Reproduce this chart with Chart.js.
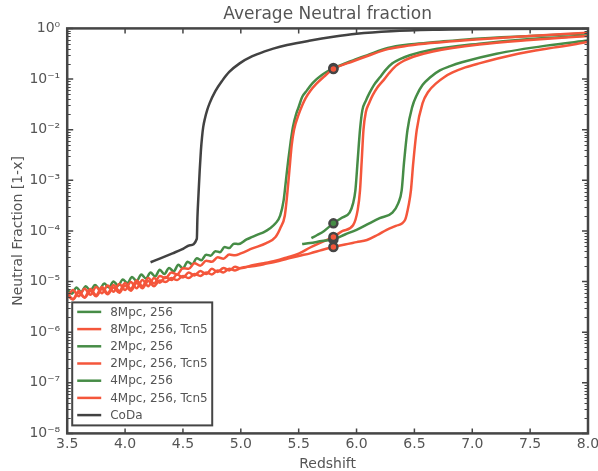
<!DOCTYPE html>
<html>
<head>
<meta charset="utf-8">
<script src="https://cdn.jsdelivr.net/npm/chart.js@4.4.1/dist/chart.umd.min.js"></script>
<style>
  html, body { margin: 0; padding: 0; background: #fff; }
</style>
</head>
<body>
<canvas id="chart" width="598" height="471"></canvas>
<script>
// ---- data (redshift z, neutral fraction 1-x) ----
const z8Mpc = [3.50, 3.54, 3.58, 3.62, 3.66, 3.70, 3.74, 3.78, 3.82, 3.86, 3.90, 3.94, 3.98,
  4.02, 4.06, 4.10, 4.14, 4.18, 4.22, 4.26, 4.30, 4.34, 4.38, 4.42, 4.46, 4.50, 4.54, 4.58,
  4.62, 4.66, 4.70, 4.74, 4.78, 4.82, 4.86, 4.90, 4.94, 4.98,
  5.05, 5.10, 5.15, 5.20, 5.25, 5.30, 5.34, 5.37, 5.39, 5.41, 5.43, 5.45, 5.48, 5.50, 5.53,
  5.57, 5.62, 5.70, 5.80, 5.97, 6.10, 6.27, 6.45, 6.64, 7.00, 7.50, 8.00];
const f8Mpc = [7.1e-6, 5.75e-6, 7.6e-6, 6.2e-6, 8.1e-6, 6.6e-6, 8.5e-6, 7.1e-6, 9.1e-6, 7.6e-6,
  1.0e-5, 8.3e-6, 1.1e-5, 9.3e-6, 1.23e-5, 1.02e-5, 1.38e-5, 1.15e-5, 1.51e-5, 1.26e-5,
  1.7e-5, 1.41e-5, 1.86e-5, 1.58e-5, 2.14e-5, 1.82e-5, 2.45e-5, 2.19e-5, 2.88e-5, 2.63e-5,
  3.39e-5, 3.24e-5, 3.98e-5, 3.8e-5, 4.8e-5, 4.57e-5, 5.6e-5, 5.5e-5,
  6.8e-5, 7.6e-5, 8.5e-5, 9.5e-5, 1.12e-4, 1.41e-4, 2.0e-4, 4.0e-4, 1.0e-3, 2.5e-3, 5.6e-3,
  1.12e-2, 2.1e-2, 2.8e-2, 4.4e-2, 5.9e-2, 8.3e-2, 0.12, 0.162, 0.234, 0.30, 0.41, 0.48,
  0.525, 0.62, 0.71, 0.80];

const z8MpcTcn5 = [3.50, 3.55, 3.60, 3.65, 3.70, 3.75, 3.80, 3.85, 3.90, 3.95, 4.00, 4.05, 4.10,
  4.15, 4.20, 4.25, 4.30, 4.35, 4.40, 4.45, 4.50, 4.55, 4.60, 4.65, 4.70, 4.75, 4.80, 4.85,
  4.90, 4.95, 5.00,
  5.10, 5.22, 5.30, 5.34, 5.38, 5.40, 5.42, 5.44, 5.46, 5.50, 5.53, 5.56, 5.60, 5.65, 5.72,
  5.80, 5.97, 6.10, 6.27, 6.45, 6.64, 7.00, 7.50, 8.00];
const f8MpcTcn5 = [5.9e-6, 4.5e-6, 6.5e-6, 4.9e-6, 7.1e-6, 5.4e-6, 7.8e-6, 5.9e-6, 8.5e-6, 6.5e-6,
  9.3e-6, 7.2e-6, 1.05e-5, 8.1e-6, 1.17e-5, 9.1e-6, 1.29e-5, 1.17e-5, 1.51e-5, 1.38e-5,
  1.82e-5, 1.78e-5, 2.29e-5, 2.04e-5, 2.57e-5, 2.45e-5, 3.0e-5, 2.82e-5, 3.4e-5, 3.3e-5, 3.6e-5,
  4.5e-5, 5.75e-5, 7.6e-5, 1.12e-4, 2.0e-4, 5.0e-4, 1.58e-3, 5.0e-3, 1.0e-2, 2.0e-2, 3.0e-2,
  4.2e-2, 5.8e-2, 7.9e-2, 0.112, 0.158, 0.224, 0.288, 0.39, 0.457, 0.513, 0.60, 0.71, 0.82];

const z2Mpc = [5.61, 5.66, 5.72, 5.80, 5.87, 5.94, 5.97, 5.99, 6.01, 6.03, 6.05, 6.08, 6.11,
  6.15, 6.20, 6.25, 6.31, 6.38, 6.46, 6.63, 7.06, 7.50, 8.00];
const f2Mpc = [7.2e-5, 8.3e-5, 1.0e-4, 1.41e-4, 1.8e-4, 2.3e-4, 3.5e-4, 6.3e-4, 2.5e-3, 1.0e-2,
  2.4e-2, 3.7e-2, 5.2e-2, 7.6e-2, 0.107, 0.15, 0.204, 0.25, 0.295, 0.37, 0.50, 0.62, 0.72];

const z2MpcTcn5 = [3.50, 3.55, 3.60, 3.65, 3.70, 3.75, 3.80, 3.85, 3.90, 3.95, 4.00, 4.05, 4.10,
  4.15, 4.20, 4.25, 4.30, 4.35, 4.40, 4.45, 4.50, 4.55, 4.60, 4.65, 4.70, 4.75, 4.80, 4.85,
  4.90, 4.95, 5.00,
  5.10, 5.20, 5.30, 5.40, 5.50, 5.60, 5.70, 5.80, 5.88, 5.97, 6.01, 6.03, 6.045, 6.06, 6.08,
  6.11, 6.14, 6.18, 6.23, 6.28, 6.34, 6.41, 6.49, 6.66, 7.06, 7.50, 8.00];
const f2MpcTcn5 = [4.8e-6, 6.8e-6, 5.1e-6, 7.2e-6, 5.5e-6, 7.8e-6, 5.9e-6, 8.3e-6, 6.3e-6, 8.9e-6,
  6.8e-6, 9.8e-6, 7.4e-6, 1.07e-5, 8.1e-6, 1.17e-5, 9.5e-6, 1.23e-5, 1.07e-5, 1.38e-5,
  1.2e-5, 1.51e-5, 1.32e-5, 1.62e-5, 1.41e-5, 1.78e-5, 1.55e-5, 1.86e-5, 1.66e-5, 1.95e-5, 1.82e-5,
  2.1e-5, 2.3e-5, 2.57e-5, 3.0e-5, 3.55e-5, 4.7e-5, 6.0e-5, 7.6e-5, 1.0e-4, 1.29e-4, 2.6e-4,
  6.3e-4, 2.5e-3, 1.0e-2, 2.2e-2, 3.4e-2, 4.8e-2, 6.8e-2, 9.3e-2, 0.13, 0.182, 0.23, 0.275,
  0.35, 0.48, 0.59, 0.71];

const z4Mpc = [5.53, 5.60, 5.70, 5.80, 5.90, 6.00, 6.11, 6.20, 6.31, 6.36, 6.39, 6.41, 6.44,
  6.48, 6.52, 6.57, 6.64, 6.72, 6.81, 6.91, 7.21, 7.64, 8.00];
const f4Mpc = [5.5e-5, 5.75e-5, 6.3e-5, 6.8e-5, 8.5e-5, 1.05e-4, 1.41e-4, 1.78e-4, 2.3e-4,
  3.5e-4, 6.3e-4, 2.2e-3, 9.8e-3, 2.75e-2, 4.8e-2, 7.6e-2, 0.11, 0.148, 0.18, 0.214, 0.316,
  0.457, 0.575];

const z4MpcTcn5 = [3.50, 3.55, 3.60, 3.65, 3.70, 3.75, 3.80, 3.85, 3.90, 3.95, 4.00, 4.05, 4.10,
  4.15, 4.20, 4.25, 4.30, 4.35, 4.40, 4.45, 4.50, 4.55, 4.60, 4.65, 4.70, 4.75, 4.80, 4.85,
  4.90, 4.95, 5.00,
  5.10, 5.20, 5.30, 5.40, 5.50, 5.60, 5.70, 5.80, 5.90, 6.00, 6.09, 6.18, 6.26, 6.34, 6.42,
  6.45, 6.47, 6.49, 6.52, 6.57, 6.62, 6.69, 6.76, 6.83, 6.94, 7.06, 7.34, 7.70, 8.00];
const f4MpcTcn5 = [5.5e-6, 4.4e-6, 6.0e-6, 4.8e-6, 6.5e-6, 5.1e-6, 7.1e-6, 5.6e-6, 7.6e-6, 6.0e-6,
  8.3e-6, 6.6e-6, 9.3e-6, 7.4e-6, 1.02e-5, 8.1e-6, 1.05e-5, 9.8e-6, 1.17e-5, 1.07e-5,
  1.29e-5, 1.17e-5, 1.41e-5, 1.29e-5, 1.51e-5, 1.38e-5, 1.66e-5, 1.51e-5, 1.78e-5, 1.66e-5, 1.86e-5,
  2.0e-5, 2.2e-5, 2.45e-5, 2.8e-5, 3.2e-5, 3.6e-5, 4.2e-5, 4.8e-5, 5.4e-5, 6.0e-5, 6.6e-5,
  8.3e-5, 1.05e-4, 1.26e-4, 1.66e-4, 3.2e-4, 6.3e-4, 2.2e-3, 9.8e-3, 3.3e-2, 5.6e-2, 8.3e-2,
  0.11, 0.135, 0.17, 0.204, 0.295, 0.417, 0.537];

const zCoDa = [4.22, 4.31, 4.41, 4.49, 4.56, 4.62, 4.625, 4.635, 4.645, 4.655, 4.665, 4.675,
  4.69, 4.71, 4.73, 4.78, 4.84, 4.90, 4.99, 5.10, 5.20, 5.28, 5.40, 5.59, 5.80, 6.00, 6.30,
  6.66, 7.30, 8.00];
const fCoDa = [2.4e-5, 2.9e-5, 3.6e-5, 4.3e-5, 5.2e-5, 7.0e-5, 1.8e-4, 5.6e-4, 1.6e-3, 3.8e-3,
  7.1e-3, 1.12e-2, 1.66e-2, 2.45e-2, 3.3e-2, 5.75e-2, 9.3e-2, 0.138, 0.204, 0.282, 0.347,
  0.398, 0.468, 0.569, 0.684, 0.785, 0.881, 0.94, 0.977, 0.993];

// snapshot markers at z = 5.8
const zMarkers = [5.8, 5.8, 5.8, 5.8, 5.8, 5.8];
const fMarkers = [0.165, 0.158, 1.41e-4, 6.8e-5, 7.6e-5, 4.8e-5];

const xTicks = [3.5, 4.0, 4.5, 5.0, 5.5, 6.0, 6.5, 7.0, 7.5, 8.0];
const yTicks = [1e-8, 1e-7, 1e-6, 1e-5, 1e-4, 1e-3, 1e-2, 1e-1, 1];
const yTickLabels = ['10⁻⁸', '10⁻⁷', '10⁻⁶', '10⁻⁵', '10⁻⁴', '10⁻³', '10⁻²', '10⁻¹', '10⁰'];

// ---- styling ----
const GREEN = '#468c46';
const RED = '#f4563b';
const DARK = '#424242';
const AXIS = '#454545';
const TEXT = '#555555';
const FONT = "'DejaVu Sans', sans-serif";

const series = [
  { label: '8Mpc, 256', z: z8Mpc, f: f8Mpc, color: GREEN },
  { label: '8Mpc, 256, Tcn5', z: z8MpcTcn5, f: f8MpcTcn5, color: RED },
  { label: '2Mpc, 256', z: z2Mpc, f: f2Mpc, color: GREEN },
  { label: '2Mpc, 256, Tcn5', z: z2MpcTcn5, f: f2MpcTcn5, color: RED },
  { label: '4Mpc, 256', z: z4Mpc, f: f4Mpc, color: GREEN },
  { label: '4Mpc, 256, Tcn5', z: z4MpcTcn5, f: f4MpcTcn5, color: RED },
  { label: 'CoDa', z: zCoDa, f: fCoDa, color: DARK },
];
const markerColors = [GREEN, RED, GREEN, GREEN, RED, RED];

function toPoints(zs, fs) {
  return zs.map((z, i) => ({ x: z, y: fs[i] }));
}

const datasets = series.map((s, i) => ({
  label: s.label,
  data: toPoints(s.z, s.f),
  borderColor: s.color,
  backgroundColor: s.color,
  borderWidth: 2.5,
  borderJoinStyle: 'round',
  pointRadius: 0,
  cubicInterpolationMode: 'monotone',
  order: 20 - i, // later series on top, like matplotlib
}));
datasets.push({
  label: 'snapshots',
  data: toPoints(zMarkers, fMarkers),
  showLine: false,
  pointRadius: 4,
  pointBorderWidth: 2.5,
  pointBorderColor: AXIS,
  pointBackgroundColor: markerColors,
  order: 0,
});

// frame with inward ticks (matplotlib look)
const frameTicks = {
  id: 'frameTicks',
  afterDatasetsDraw(chart) {
    const { ctx, chartArea: a, scales: { x, y } } = chart;
    ctx.save();
    ctx.strokeStyle = AXIS;
    ctx.lineWidth = 1.5;
    ctx.beginPath();
    xTicks.forEach((v) => {
      const px = x.getPixelForValue(v);
      ctx.moveTo(px, a.bottom); ctx.lineTo(px, a.bottom - 5);
      ctx.moveTo(px, a.top); ctx.lineTo(px, a.top + 5);
    });
    yTicks.forEach((v) => {
      const py = y.getPixelForValue(v);
      ctx.moveTo(a.left, py); ctx.lineTo(a.left + 6, py);
      ctx.moveTo(a.right, py); ctx.lineTo(a.right - 6, py);
    });
    ctx.stroke();
    ctx.lineWidth = 1;
    ctx.beginPath();
    yTicks.slice(0, -1).forEach((v) => {
      for (let k = 2; k < 10; k++) {
        const py = Math.round(y.getPixelForValue(v * k)) + 0.5;
        ctx.moveTo(a.left, py); ctx.lineTo(a.left + 3.5, py);
        ctx.moveTo(a.right, py); ctx.lineTo(a.right - 3.5, py);
      }
    });
    ctx.stroke();
    ctx.lineWidth = 2.5;
    ctx.strokeRect(a.left, a.top, a.right - a.left, a.bottom - a.top);
    ctx.restore();
  },
};

// boxed legend in the lower left corner
const boxLegend = {
  id: 'boxLegend',
  afterDraw(chart) {
    const { ctx, chartArea: a } = chart;
    const left = a.left + 5, bottom = a.bottom - 8;
    const w = 140, h = 123, row = 17.2;
    const top = bottom - h;
    ctx.save();
    ctx.fillStyle = '#fff';
    ctx.fillRect(left, top, w, h);
    ctx.strokeStyle = AXIS;
    ctx.lineWidth = 2;
    ctx.strokeRect(left, top, w, h);
    ctx.font = '12px ' + FONT;
    ctx.textBaseline = 'middle';
    series.forEach((s, i) => {
      const cy = top + 9.5 + i * row;
      ctx.strokeStyle = s.color;
      ctx.lineWidth = 2.5;
      ctx.beginPath();
      ctx.moveTo(left + 5, cy); ctx.lineTo(left + 29, cy);
      ctx.stroke();
      ctx.fillStyle = TEXT;
      ctx.fillText(s.label, left + 38, cy + 0.5);
    });
    ctx.restore();
  },
};

new Chart(document.getElementById('chart'), {
  type: 'line',
  data: { datasets },
  options: {
    responsive: false,
    animation: false,
    events: [],
    layout: { padding: { left: 7.6, right: 10, top: 0, bottom: 0 } },
    plugins: {
      legend: { display: false },
      tooltip: { enabled: false },
      title: {
        display: true,
        fullSize: false,
        text: 'Average Neutral fraction',
        color: TEXT,
        font: { family: FONT, size: 17, weight: 'normal' },
        padding: { top: 4, bottom: 4 },
      },
    },
    scales: {
      x: {
        type: 'linear',
        min: 3.5,
        max: 8.0,
        afterBuildTicks: (s) => { s.ticks = xTicks.map((v) => ({ value: v })); },
        afterFit: (s) => { s.paddingRight = 0; s.paddingLeft = 0; },
        ticks: {
          callback: (v) => v.toFixed(1),
          color: TEXT,
          font: { family: FONT, size: 14 },
          padding: 3,
          maxRotation: 0,
          autoSkip: false,
        },
        grid: { display: false, drawTicks: false },
        border: { display: false },
        title: {
          display: true,
          text: 'Redshift',
          color: TEXT,
          font: { family: FONT, size: 14 },
          padding: { top: 0, bottom: -2 },
        },
      },
      y: {
        type: 'logarithmic',
        min: 1e-8,
        max: 1,
        afterBuildTicks: (s) => { s.ticks = yTicks.map((v) => ({ value: v })); },
        ticks: {
          callback: (v) => {
            const i = yTicks.indexOf(v);
            return i >= 0 ? yTickLabels[i] : '';
          },
          color: TEXT,
          font: { family: FONT, size: 14 },
          padding: 7,
          autoSkip: false,
        },
        grid: { display: false, drawTicks: false },
        border: { display: false },
        title: {
          display: true,
          text: 'Neutral Fraction [1-x]',
          color: TEXT,
          font: { family: FONT, size: 14 },
          padding: { top: 2, bottom: -4 },
        },
      },
    },
  },
  plugins: [frameTicks, boxLegend],
});
</script>
</body>
</html>
